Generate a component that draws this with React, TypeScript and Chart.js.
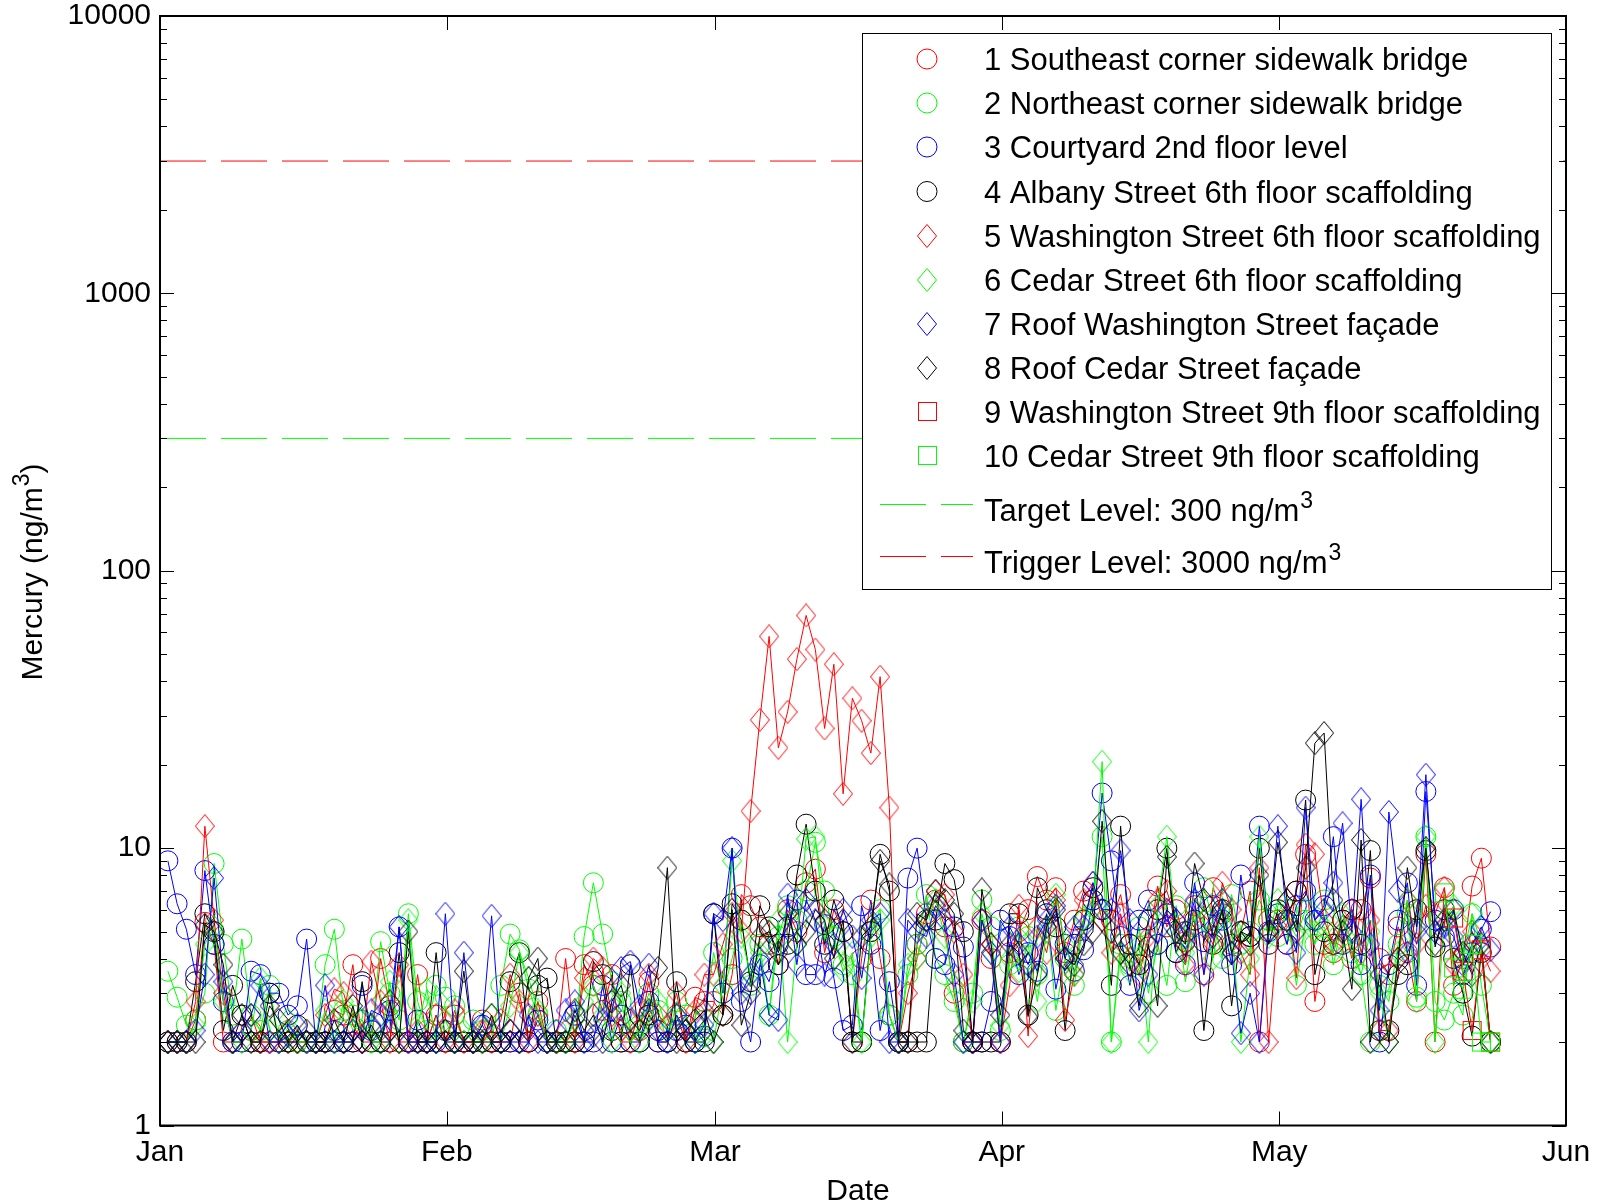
import React, { useEffect, useRef } from "react";
import { Chart, registerables } from "chart.js";

Chart.register(...registerables);

const W = 1598;
const H = 1204;
const FONT_FAMILY = "'Liberation Sans', Arial, Helvetica, sans-serif";

// x axis: day of year (2008, leap year), month tick positions
const MONTH_LABELS = ["Jan", "Feb", "Mar", "Apr", "May", "Jun"];
const MONTH_STARTS = [0, 31, 60, 91, 121, 152];
const Y_TICKS = [1, 10, 100, 1000, 10000];
const Y_MINOR = [2, 3, 4, 5, 6, 7, 8, 9];
const SAMPLE_OFFSET = 0.85; // sampling time within the day
const TARGET_LEVEL = 300;
const TRIGGER_LEVEL = 3000;

const SITE_NAMES = [
  "1 Southeast corner sidewalk bridge",
  "2 Northeast corner sidewalk bridge",
  "3 Courtyard 2nd floor level",
  "4 Albany Street 6th floor scaffolding",
  "5 Washington Street 6th floor scaffolding",
  "6 Cedar Street 6th floor scaffolding",
  "7 Roof Washington Street façade",
  "8 Roof Cedar Street façade",
  "9 Washington Street 9th floor scaffolding",
  "10 Cedar Street 9th floor scaffolding",
];
const SITE_COLORS = ["#ff0000", "#00ff00", "#0000ff", "#000000", "#ff0000", "#00ff00", "#0000ff", "#000000", "#ff0000", "#00ff00"];
const SITE_MARKERS = ["circle", "circle", "circle", "circle", "diamond", "diamond", "diamond", "diamond", "square", "square"];
const SITE_START_DAY = [0, 0, 0, 0, 0, 0, 0, 0, 139, 138];

// Mercury (ng/m3), one value per day starting at SITE_START_DAY
const S1_SOUTHEAST = [
  2, 2, 2, 2.4, 5.4, 4.5, 2, 2, 2, 2.2, 2, 2, 2, 2, 2, 2, 2, 2, 2.6, 2.5, 3.8, 2, 2, 4, 2.7, 2, 2, 3.5, 2, 2.5, 2,
  2.5, 2, 2, 2.4, 2, 2, 2, 3, 2, 2.8, 2, 2, 4, 2, 3.8, 3.2, 2.6, 3.5, 2, 2, 2.2, 3.3, 2, 2, 2.5, 2, 2.9, 2.8,
  2.8, 2.5, 3.5, 6.8, 6.2, 5.2, 4.5, 3.8, 6, 5, 7.5, 8.4, 4.2, 6, 5, 2, 4, 6.5, 4, 2.5, 2, 2, 4.5, 5.8, 6.5, 5.2, 3, 2, 2, 5.5, 4,
  2, 4.2, 5, 6, 7.9, 6.5, 7.2, 4.2, 5.5, 7, 6.5, 6, 5.5, 6.8, 4.5, 3.8, 4.4, 7.3, 5.2, 6, 4.6, 6.2, 3.5, 7.2, 5.8, 4.5, 5, 7, 2, 5.5,
  5.5, 4.5, 7, 9.5, 2.8, 4.5, 4.2, 5.5, 4, 6, 7.8, 4, 3.5, 5.2, 4.2, 2.8, 9.5, 2, 7.2, 3.2, 4, 7.3, 9.2, 4.4,
];
const S2_NORTHEAST = [
  3.6, 2.9, 2.3, 2.4, 3, 8.8, 4.5, 2.5, 4.7, 2.5, 2.2, 3.2, 2, 2.2, 2, 2, 2, 3.8, 5.1, 2.6, 2.5, 2.4, 2, 4.6, 3, 2.4, 5.8, 2.8, 2.2, 3.2, 2.9,
  2.7, 2, 2.4, 2.2, 2, 3.2, 4.9, 4.3, 3.1, 2.5, 2, 2.2, 2, 2, 4.8, 7.5, 4.9, 3.3, 2.8, 2, 2.3, 3, 2.6, 2, 2.8, 2.5, 2, 2.4,
  4.2, 3, 4, 5.5, 3.2, 4.5, 2.5, 4.8, 6.2, 5.5, 7, 10.5, 7, 4.8, 3.8, 3.5, 2, 5, 6, 2.5, 2, 3.5, 4.5, 6.8, 4, 3.5, 2.8, 2, 3, 6.5, 5.2,
  2.2, 3.8, 5.2, 4.8, 3.5, 5.8, 2.6, 4, 3.2, 5.5, 6.5, 11, 2, 4.5, 3.8, 5.2, 3, 4.5, 3.2, 6.2, 3.3, 5.2, 7.2, 5.5, 4, 6.8, 4.5, 5, 6.5, 5.5,
  4.8, 6, 3.2, 5.5, 4.5, 6.5, 3.8, 5.5, 4.2, 3.5, 2, 3.2, 2.8, 4.5, 5.8, 2.9, 11, 2.8, 2.4, 3, 2.5, 5.8, 3.2, 2,
];
const S3_COURTYARD = [
  9, 6.3, 5.1, 3.5, 8.3, 4.5, 2.8, 2, 2, 3.6, 3.5, 3, 3, 2.5, 2.7, 4.7, 2, 2, 2.2, 2, 2, 3.2, 2.2, 2, 2.6, 5.2, 2, 2.4, 2, 2, 2.2,
  2, 2, 2, 2.3, 2, 2, 2, 2, 2, 2.4, 2, 2, 2, 2.5, 2, 2, 3.2, 2, 2.5, 2, 2, 2.8, 2, 2, 2.2, 2.3, 2, 2.1,
  5.8, 3, 10, 2.8, 2, 3.8, 3.3, 4.5, 5.2, 6.5, 3.5, 3.5, 5.3, 3.4, 2.2, 2.3, 6.2, 4.5, 2.2, 3.3, 2, 7.8, 10, 5.5, 4, 3.8, 5.2, 4.4, 2, 2, 2.8,
  5.5, 4.8, 3.5, 4.2, 3.6, 5.8, 3.1, 4.5, 3.6, 4.3, 6.5, 15.8, 9, 4.8, 3.2, 5.5, 6.5, 4.5, 5.8, 4.2, 3.8, 7.5, 4.6, 6.2, 5.5, 3.8, 8, 4.8, 12, 5,
  5.8, 4.5, 6.2, 7, 5.5, 6.2, 11, 4.5, 6, 3.8, 8, 2, 3.8, 5.5, 7.5, 3.2, 16, 5.5, 4.8, 6, 3.5, 4.2, 5.1, 5.9,
];
const S4_ALBANY_6 = [
  2, 2, 2, 3.3, 5.8, 5, 2.2, 3.2, 2.5, 2, 2, 3, 2, 2, 2.3, 2, 2, 2, 2, 2, 2, 3.3, 2, 2, 2, 4.2, 2, 2, 2, 4.2, 2,
  2, 2, 2, 2, 2, 2, 3.3, 4.2, 2, 3.2, 3.4, 2, 2, 2, 2, 3.9, 3.5, 2.2, 2, 3.8, 2, 2.5, 2.2, 2, 3.3, 2, 2, 2,
  5.8, 2.5, 6.3, 5.5, 3.3, 6.2, 5.2, 3.8, 4.5, 8, 12.2, 7, 4.5, 6.5, 5, 2, 2, 5, 9.5, 7, 2, 2, 2, 2, 5.5, 8.8, 7.7, 5, 2, 2, 2,
  2, 5.8, 5.8, 2.5, 7.2, 6, 5.2, 2.2, 4.5, 5.5, 7.2, 6, 3.2, 12, 4.5, 3.8, 5.5, 6, 10, 4.2, 5, 5.5, 2.2, 4.5, 6, 2.7, 5, 4.8, 10, 4.5,
  6, 5.5, 7, 14.9, 3.5, 5, 4.5, 5.5, 6, 4.5, 9.8, 2.2, 2.2, 3.5, 3.8, 6, 9.8, 4.4, 6, 4, 3, 2.1, 4.2, 2,
];
const S5_WASHINGTON_6 = [
  2, 2, 2, 2.8, 12, 5.5, 3, 2, 2.2, 2.5, 2, 2, 2, 2.2, 2, 2, 2, 2.5, 3.1, 3, 2.3, 2, 3.9, 2.8, 2, 3.8, 2, 2.2, 2, 2.5, 2,
  2.6, 2, 2, 2.2, 2, 2.4, 3.5, 2.8, 2, 2.5, 2, 2, 2.2, 2, 3.4, 4, 3.7, 2.5, 2.2, 2, 2.6, 3.5, 2.5, 2.3, 3, 2, 2.6, 3.5,
  3.5, 4.5, 5.8, 5, 13.6, 29, 58, 23, 31, 48, 69, 52, 27, 46, 15.7, 34.7, 28.8, 22, 41.5, 14, 2, 3, 4, 5.5, 7, 6.8, 5, 3.5, 2, 5.5, 4.5,
  2, 3.2, 6.2, 2.1, 5.2, 4.2, 6.5, 2.4, 3.5, 6.5, 7.5, 5.5, 4.2, 5.8, 4, 3.5, 4.8, 6.5, 7, 5.5, 3.8, 6, 5.2, 4.5, 7.5, 6, 4.2, 3.5, 8.5, 2,
  5.2, 6.5, 3.4, 10.3, 9.5, 5.5, 4.5, 5.2, 6, 4.2, 5.5, 2.2, 2.2, 4, 6.5, 4.5, 6.2, 5.8, 7.2, 3.8, 4.2, 5, 4.3, 3.6,
];
const S6_CEDAR_6 = [
  2, 2, 2, 2.3, 4.5, 5.2, 2.8, 2, 2, 2.2, 3.4, 2.2, 2, 2.4, 2, 2, 2, 2.6, 2, 2.8, 2.2, 2.4, 2, 2, 3.3, 2, 5.5, 2.3, 3.1, 2, 2.4,
  2, 2.2, 2, 2, 2.5, 2, 2.7, 4.2, 3.4, 2.6, 2, 2, 2, 2.4, 2.8, 3.2, 2.5, 2, 3, 2.2, 2, 2.4, 2.8, 2.2, 2.5, 2.2, 2, 2.1,
  2, 3.2, 9, 4.8, 3.5, 4.2, 2.5, 5.5, 2, 4.5, 10.8, 11, 5.2, 4.8, 3.6, 4.2, 2, 4.8, 5.5, 2.5, 2, 3.8, 4, 5.5, 6.5, 4.8, 3.2, 2, 2.8, 5.8, 4.2,
  2.3, 4, 3.6, 4.5, 2.8, 5, 6.8, 4.5, 3.5, 5.6, 6, 20.5, 2, 4.2, 3.6, 4.5, 2, 6.2, 11, 5, 4.2, 6, 5.5, 4, 6.5, 5.2, 2, 4, 11, 4.8,
  6.5, 5.5, 4.8, 6, 5, 5.2, 4.2, 5.8, 4.5, 3.5, 5, 3, 2, 4.2, 6.5, 2.8, 11, 2, 5.5, 6.2, 4, 5.8, 4.5, 2,
];
const S7_ROOF_WASHINGTON = [
  2, 2, 2, 2.2, 3.5, 7.8, 3.3, 2, 2.2, 2.5, 3.2, 2, 2, 2.1, 2.3, 2, 2, 3.2, 2, 2, 2.2, 2, 2.6, 2.5, 2.2, 5.2, 2, 2, 2, 2, 5.8,
  2, 4.2, 2, 2.3, 5.7, 2, 2.2, 2, 2.5, 2, 2, 2.2, 2.6, 2.8, 2, 2.1, 2.4, 2.6, 3.7, 3.9, 2.7, 3.8, 2.2, 2, 2.5, 2.2, 2, 2.3,
  5.8, 5.5, 10, 3, 3.5, 4, 2.5, 2.4, 6.8, 3.8, 6.5, 5.5, 3.5, 4.5, 6, 4.8, 3.4, 5.5, 5.8, 2, 2, 5.5, 5, 4.8, 6.2, 5.5, 3.5, 2, 2, 5.5, 4.2,
  2, 5.2, 4.5, 3.8, 4.8, 5.5, 6.2, 4, 5.2, 5.2, 7.5, 6, 6, 9.8, 5.5, 2.6, 3.5, 5, 6, 5.5, 4.8, 6.5, 3.5, 5.2, 6.5, 4.2, 2.15, 3, 2, 5,
  12, 5.5, 4.2, 14, 5.5, 6, 7.5, 12.3, 5, 15, 4.5, 2.6, 13.5, 7, 4.2, 5, 18.4, 5, 5.2, 4.8, 3.8, 4.5, 5.2, 4.3,
];
const S8_ROOF_CEDAR = [
  2, 2, 2, 2, 5.3, 5, 3.8, 2, 2.5, 2, 2, 2.7, 2.4, 2, 2, 2.2, 2, 2, 2.4, 2, 2.7, 2, 2.3, 2, 2.8, 2, 5, 2, 2, 2, 2.2,
  2, 3.6, 2, 2, 2.5, 2, 2.2, 2, 3.4, 4, 2, 2, 2, 2.6, 2.2, 2.5, 2, 2.8, 3.2, 2.4, 2.2, 2.6, 3.7, 8.5, 2, 2.2, 2.4, 2.6,
  2, 2.5, 6, 2.3, 3, 4.8, 5, 4.2, 5.8, 4.5, 5, 6, 5.5, 4, 5.5, 2, 4.8, 5.2, 9, 7.4, 2, 2, 5.8, 5.5, 7, 6.5, 5.8, 2.2, 2, 7.1, 4.5,
  2.5, 4.5, 4.2, 2.47, 3.5, 5.2, 6, 4, 3.8, 4.5, 5, 12.5, 5, 4.2, 3.8, 2.7, 4.5, 2.7, 9.3, 5, 4.5, 8.8, 6.5, 4.8, 6, 4.2, 5, 4.5, 8, 5,
  10.5, 6.5, 5, 8.5, 23.9, 26, 6.5, 5, 3.1, 10.7, 2, 3.5, 2, 4, 8.5, 5.2, 10, 4.5, 5.5, 6, 4.2, 3.5, 4.5, 2,
];
const S9_WASHINGTON_9 = [5.6, 3.6, 2.2, 4.3, 2];
const S10_CEDAR_9 = [6.9, 3.7, 3.1, 4.5, 2, 2];

const SERIES_VALUES = [
  S1_SOUTHEAST, S2_NORTHEAST, S3_COURTYARD, S4_ALBANY_6, S5_WASHINGTON_6,
  S6_CEDAR_6, S7_ROOF_WASHINGTON, S8_ROOF_CEDAR, S9_WASHINGTON_9, S10_CEDAR_9,
];

// layout (pixels)
const PLOT = { left: 160, right: 1566, top: 16, bottom: 1125.5 };
const LEGEND_BOX = { x: 862, y: 33, w: 689, h: 556 };
const LEGEND_ROW_Y = [59, 103, 147, 191.5, 235.5, 279.5, 323.5, 367.5, 411.5, 455.5];
const LEGEND_LINE_ROWS = [510, 562];
const FONT_SIZE = 30;
const LEGEND_FONT_SIZE = 31;

export default function App() {
  const canvasRef = useRef<HTMLCanvasElement | null>(null);

  useEffect(() => {
    const canvas = canvasRef.current;
    if (!canvas) return;

    const makeDiamond = (color: string) => {
      const c = document.createElement("canvas");
      c.width = 20;
      c.height = 24;
      const g = c.getContext("2d")!;
      g.strokeStyle = color;
      g.lineWidth = 1;
      g.beginPath();
      g.moveTo(10, 0.5);
      g.lineTo(19.5, 12);
      g.lineTo(10, 23.5);
      g.lineTo(0.5, 12);
      g.closePath();
      g.stroke();
      return c;
    };
    const makeSquare = (color: string) => {
      const c = document.createElement("canvas");
      c.width = 21;
      c.height = 21;
      const g = c.getContext("2d")!;
      g.strokeStyle = color;
      g.lineWidth = 1;
      g.strokeRect(1.5, 1.5, 18, 18);
      return c;
    };

    const markerImages = SITE_MARKERS.map((m, k) => {
      if (m === "diamond") return makeDiamond(SITE_COLORS[k]);
      if (m === "square") return makeSquare(SITE_COLORS[k]);
      return null;
    });

    const font = (size: number) => `${size}px ${FONT_FAMILY}`;

    const drawSupText = (
      ctx: CanvasRenderingContext2D,
      x: number,
      baseline: number,
      main: string,
      sup: string,
      tail: string,
      size: number
    ) => {
      ctx.font = font(size);
      ctx.fillText(main, x, baseline);
      let cx = x + ctx.measureText(main).width;
      ctx.font = font(23);
      ctx.fillText(sup, cx + 1, baseline - 13);
      cx += ctx.measureText(sup).width + 1;
      ctx.font = font(size);
      if (tail) ctx.fillText(tail, cx, baseline);
    };

    const framePlugin = {
      id: "matlabFrame",
      afterDraw(chart: any) {
        const ctx: CanvasRenderingContext2D = chart.ctx;
        const { left, right, top, bottom } = chart.chartArea;
        const xs = chart.scales.x;
        const ys = chart.scales.y;
        ctx.save();

        // inward ticks
        ctx.strokeStyle = "#000";
        ctx.lineWidth = 1;
        ctx.setLineDash([]);
        ctx.beginPath();
        MONTH_STARTS.forEach((d) => {
          const px = Math.round(xs.getPixelForValue(d)) + 0.5;
          ctx.moveTo(px, bottom);
          ctx.lineTo(px, bottom - 14);
          ctx.moveTo(px, top);
          ctx.lineTo(px, top + 14);
        });
        Y_TICKS.forEach((v, i) => {
          const py = Math.round(ys.getPixelForValue(v)) + 0.5;
          ctx.moveTo(left, py);
          ctx.lineTo(left + 14, py);
          ctx.moveTo(right, py);
          ctx.lineTo(right - 14, py);
          if (i < Y_TICKS.length - 1) {
            Y_MINOR.forEach((m) => {
              const pm = Math.round(ys.getPixelForValue(v * m)) + 0.5;
              ctx.moveTo(left, pm);
              ctx.lineTo(left + 7, pm);
              ctx.moveTo(right, pm);
              ctx.lineTo(right - 7, pm);
            });
          }
        });
        ctx.stroke();

        // axes box
        ctx.lineWidth = 2;
        ctx.strokeRect(left, top, right - left, bottom - top);

        // legend
        ctx.fillStyle = "#fff";
        ctx.fillRect(LEGEND_BOX.x, LEGEND_BOX.y, LEGEND_BOX.w, LEGEND_BOX.h);
        ctx.lineWidth = 1;
        ctx.strokeStyle = "#000";
        ctx.strokeRect(LEGEND_BOX.x + 0.5, LEGEND_BOX.y + 0.5, LEGEND_BOX.w, LEGEND_BOX.h);

        const mx = 927;
        const tx = 984;
        ctx.textAlign = "left";
        ctx.textBaseline = "alphabetic";
        SITE_NAMES.forEach((name, k) => {
          const ry = LEGEND_ROW_Y[k];
          const img = markerImages[k];
          if (img) {
            ctx.drawImage(img, Math.round(mx - img.width / 2), Math.round(ry - img.height / 2));
          } else {
            ctx.strokeStyle = SITE_COLORS[k];
            ctx.lineWidth = 1;
            ctx.beginPath();
            ctx.arc(mx, ry, 10, 0, Math.PI * 2);
            ctx.stroke();
          }
          ctx.fillStyle = "#000";
          ctx.font = font(LEGEND_FONT_SIZE);
          ctx.fillText(name, tx, ry + 11);
        });
        const lineItems = [
          { color: "#00ff00", text: `Target Level: ${TARGET_LEVEL} ng/m` },
          { color: "#ff0000", text: `Trigger Level: ${TRIGGER_LEVEL} ng/m` },
        ];
        lineItems.forEach((it, k) => {
          const ty = LEGEND_LINE_ROWS[k];
          const ly = Math.round(ty - 6) + 0.5;
          ctx.strokeStyle = it.color;
          ctx.lineWidth = 1;
          ctx.setLineDash([46, 15]);
          ctx.beginPath();
          ctx.moveTo(880, ly);
          ctx.lineTo(973, ly);
          ctx.stroke();
          ctx.setLineDash([]);
          ctx.fillStyle = "#000";
          drawSupText(ctx, tx, ty + 11, it.text, "3", "", LEGEND_FONT_SIZE);
        });

        // axis titles
        ctx.fillStyle = "#000";
        ctx.font = font(FONT_SIZE);
        ctx.textAlign = "center";
        ctx.fillText("Date", 858, 1200);

        ctx.save();
        ctx.translate(42, 572);
        ctx.rotate(-Math.PI / 2);
        ctx.textAlign = "left";
        ctx.font = font(FONT_SIZE);
        const mainT = "Mercury (ng/m";
        const w1 = ctx.measureText(mainT).width;
        ctx.font = font(23);
        const w2 = ctx.measureText("3").width + 1;
        ctx.font = font(FONT_SIZE);
        const w3 = ctx.measureText(")").width;
        const start = -(w1 + w2 + w3) / 2;
        drawSupText(ctx, start, 0, mainT, "3", ")", FONT_SIZE);
        ctx.restore();

        ctx.restore();
      },
    };

    const datasets: any[] = SERIES_VALUES.map((vals, k) => ({
      label: SITE_NAMES[k],
      data: vals.map((v, i) => ({ x: SITE_START_DAY[k] + i + SAMPLE_OFFSET, y: v })),
      borderColor: SITE_COLORS[k],
      backgroundColor: "rgba(0,0,0,0)",
      borderWidth: 1,
      pointStyle: markerImages[k] || "circle",
      pointRadius: 10,
      pointBorderWidth: 1,
      pointBorderColor: SITE_COLORS[k],
      pointBackgroundColor: "rgba(0,0,0,0)",
      tension: 0,
      fill: false,
      order: 10 - k,
    }));
    datasets.push(
      {
        label: "Target Level",
        data: [
          { x: MONTH_STARTS[0], y: TARGET_LEVEL },
          { x: MONTH_STARTS[MONTH_STARTS.length - 1], y: TARGET_LEVEL },
        ],
        borderColor: "#00ff00",
        borderWidth: 1,
        borderDash: [46, 15],
        pointRadius: 0,
        fill: false,
        order: 11,
      },
      {
        label: "Trigger Level",
        data: [
          { x: MONTH_STARTS[0], y: TRIGGER_LEVEL },
          { x: MONTH_STARTS[MONTH_STARTS.length - 1], y: TRIGGER_LEVEL },
        ],
        borderColor: "#ff0000",
        borderWidth: 1,
        borderDash: [46, 15],
        pointRadius: 0,
        fill: false,
        order: 12,
      }
    );

    const tickFont = { family: FONT_FAMILY, size: FONT_SIZE };

    const chart = new Chart(canvas, {
      type: "line",
      data: { datasets },
      options: {
        responsive: false,
        animation: false,
        events: [],
        layout: {
          padding: { left: 0, top: PLOT.top, right: W - PLOT.right, bottom: 0 },
        },
        plugins: {
          legend: { display: false },
          tooltip: { enabled: false },
          title: { display: false },
        },
        scales: {
          x: {
            type: "linear",
            position: "bottom",
            min: MONTH_STARTS[0],
            max: MONTH_STARTS[MONTH_STARTS.length - 1],
            grid: { display: false, drawTicks: false },
            border: { display: false },
            ticks: {
              font: tickFont,
              color: "#000",
              padding: 9,
              autoSkip: false,
              maxRotation: 0,
              minRotation: 0,
              callback: (v: any) => {
                const i = MONTH_STARTS.indexOf(Number(v));
                return i >= 0 ? MONTH_LABELS[i] : "";
              },
            },
            afterBuildTicks: (s: any) => {
              s.ticks = MONTH_STARTS.map((v) => ({ value: v }));
            },
            afterFit: (s: any) => {
              s.height = H - PLOT.bottom;
              s.paddingLeft = 0;
              s.paddingRight = 0;
              s.paddingTop = 0;
              s.paddingBottom = 0;
            },
          },
          y: {
            type: "logarithmic",
            position: "left",
            min: Y_TICKS[0],
            max: Y_TICKS[Y_TICKS.length - 1],
            grid: { display: false, drawTicks: false },
            border: { display: false },
            ticks: {
              font: tickFont,
              color: "#000",
              padding: 9,
              autoSkip: false,
              callback: (v: any) => String(v),
            },
            afterBuildTicks: (s: any) => {
              s.ticks = Y_TICKS.map((v) => ({ value: v }));
            },
            afterFit: (s: any) => {
              s.width = PLOT.left;
              s.paddingLeft = 0;
              s.paddingRight = 0;
              s.paddingTop = 0;
              s.paddingBottom = 0;
            },
          },
        },
      } as any,
      plugins: [framePlugin],
    });

    return () => {
      chart.destroy();
    };
  }, []);

  return (
    <div style={{ position: "fixed", left: 0, top: 0, width: W, height: H, background: "#fff" }}>
      <canvas ref={canvasRef} width={W} height={H} style={{ display: "block", width: W, height: H }} />
    </div>
  );
}
